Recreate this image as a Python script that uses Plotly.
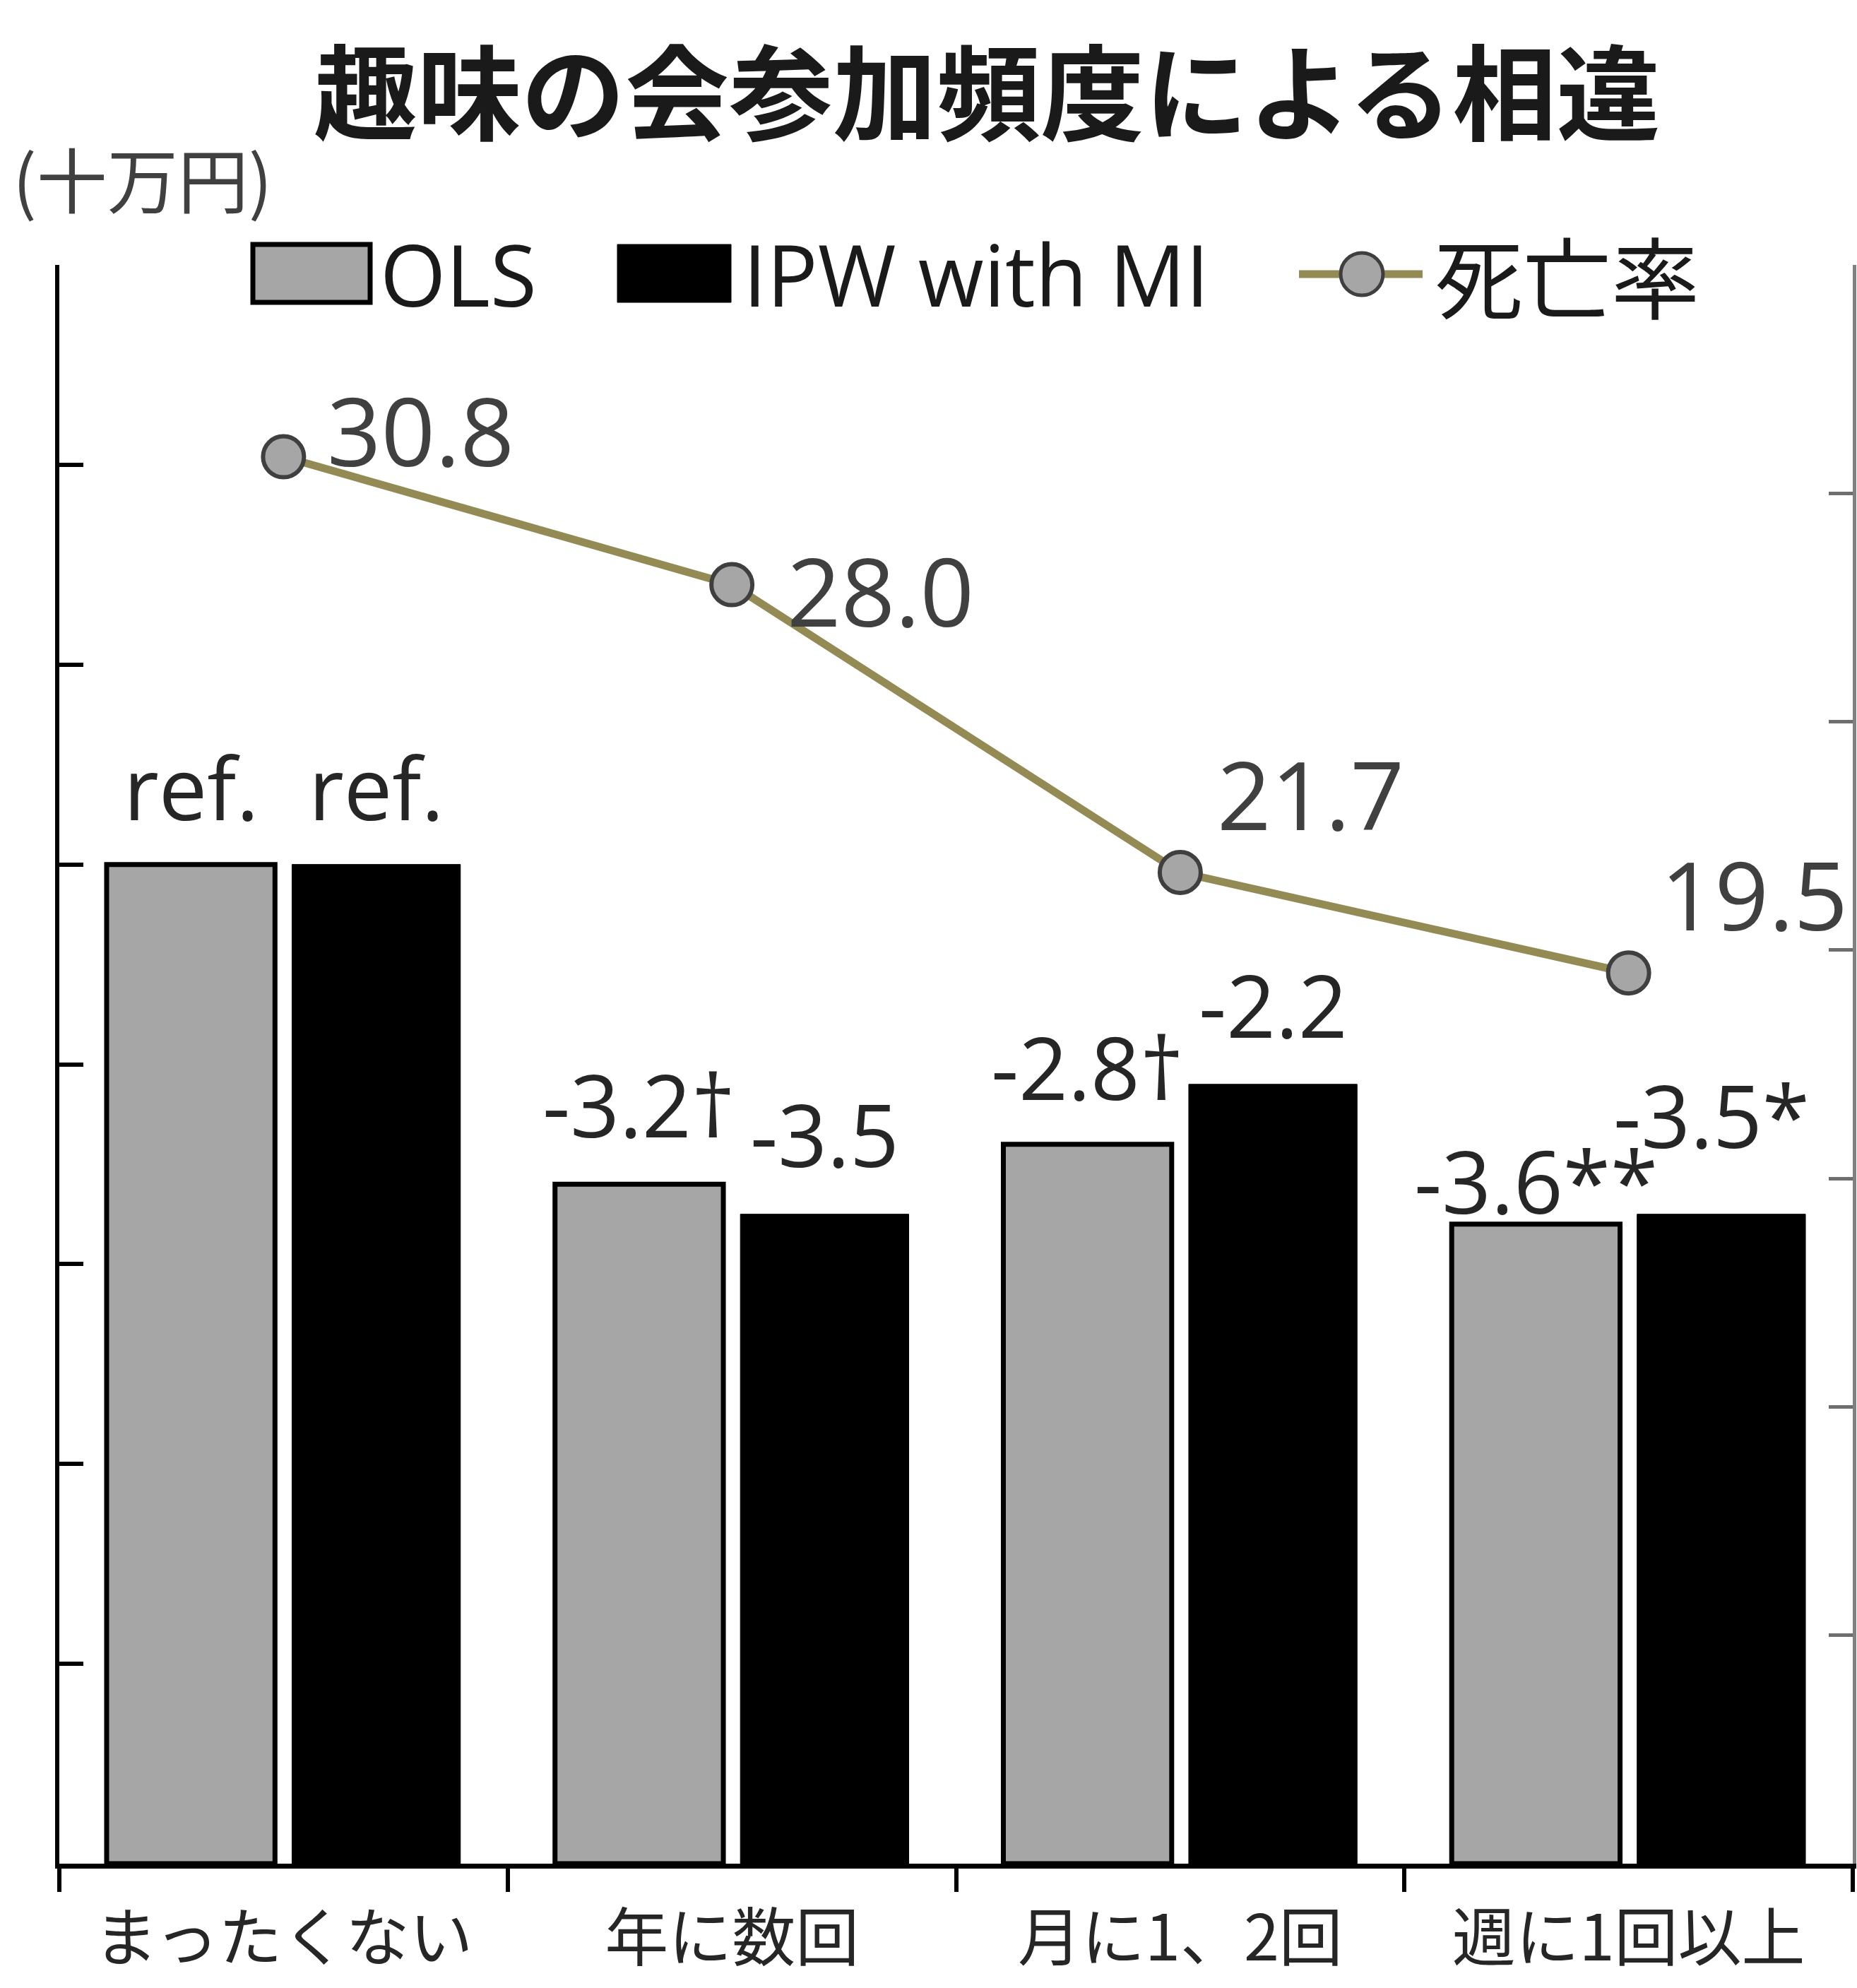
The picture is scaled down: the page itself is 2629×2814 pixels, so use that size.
import plotly.graph_objects as go

# ---------------- data ----------------
categories = ["まったくない", "年に数回", "月に1、2回", "週に1回以上"]
ols_values = [0.0, -3.2, -2.8, -3.6]
ipw_values = [0.0, -3.5, -2.2, -3.5]
ols_labels = ["ref.", "-3.2†", "-2.8†", "-3.6**"]
ipw_labels = ["ref.", "-3.5", "-2.2", "-3.5*"]
mortality = [30.8, 28.0, 21.7, 19.5]
mortality_labels = ["30.8", "28.0", "21.7", "19.5"]
series_names = ["OLS", "IPW with MI", "死亡率"]
title_text = "趣味の会参加頻度による相違"
unit_text = "(十万円)"

# ---------------- styles / layout ----------------
W, H = 2629, 2814
PX0, PX1, PY0, PY1 = 84, 2623, 375, 2638   # plot area in pixels
Y_MIN, Y_MAX, Y_DT = -10, 6, 2
Y2_MIN, Y2_MAX, Y2_DT = 0, 35, 5
BARGAP, BARGROUPGAP = 0.173, 0.092

GRAY = "#a6a6a6"
OLIVE = "#948a54"
LATIN = "Open Sans, Noto Sans CJK JP, sans-serif"
CJK = "Noto Sans CJK JP, sans-serif"

ols_lift = [110, 113, 110, 62]
ipw_lift = [110, 114, 113, 141]
ols_dx = [0, 0, 0, 0]
ipw_dx = [0, 0, 0, -14]
rate_dx = [60, 76, 50, 43]
rate_dy = [39, -7, 112, 112]


def px2x(px):
    return (px - PX0) / (PX1 - PX0)


def py2y(py):
    return (PY1 - py) / (PY1 - PY0)


fig = go.Figure()
fig.add_trace(go.Bar(
    name=series_names[0], x=categories, y=[v - Y_MIN for v in ols_values], base=Y_MIN,
    marker=dict(color=GRAY, line=dict(color="#000000", width=7)), showlegend=False,
))
fig.add_trace(go.Bar(
    name=series_names[1], x=categories, y=[v - Y_MIN for v in ipw_values], base=Y_MIN,
    marker=dict(color="#000000", line=dict(color="#000000", width=1)), showlegend=False,
))
fig.add_trace(go.Scatter(
    name=series_names[2], x=categories, y=mortality, yaxis="y2", mode="lines+markers",
    line=dict(color=OLIVE, width=11),
    marker=dict(size=58, color=GRAY, line=dict(color="#3f3f3f", width=6)),
    showlegend=False,
))

annotations = []
off = (1 - BARGAP) / 4
for i in range(len(categories)):
    annotations.append(dict(
        x=i - off, y=ols_values[i], xref="x", yref="y", text=ols_labels[i],
        showarrow=False, xanchor="center", yanchor="middle",
        xshift=ols_dx[i], yshift=ols_lift[i],
        font=dict(family=LATIN, size=122, color="#262626")))
    annotations.append(dict(
        x=i + off, y=ipw_values[i], xref="x", yref="y", text=ipw_labels[i],
        showarrow=False, xanchor="center", yanchor="middle",
        xshift=ipw_dx[i], yshift=ipw_lift[i],
        font=dict(family=LATIN, size=122, color="#262626")))
    annotations.append(dict(
        x=i, y=mortality[i], xref="x", yref="y2", text=mortality_labels[i],
        showarrow=False, xanchor="left", yanchor="middle",
        xshift=rate_dx[i], yshift=rate_dy[i],
        font=dict(family=LATIN, size=134, color="#404040")))

# title
annotations.append(dict(
    x=px2x(1397), y=py2y(122), xref="paper", yref="paper", text=title_text,
    showarrow=False, xanchor="center", yanchor="middle",
    font=dict(family=CJK, size=147, color="#1a1a1a", weight="bold")))

# unit label
annotations.append(dict(
    x=px2x(16), y=py2y(250), xref="paper", yref="paper", text=unit_text,
    showarrow=False, xanchor="left", yanchor="middle",
    font=dict(family=CJK, size=100, color="#404040")))

# manual legend
LEG_Y = 388
shapes = [
    dict(type="rect", xref="paper", yref="paper",
         x0=px2x(358), x1=px2x(524), y0=py2y(346), y1=py2y(428),
         fillcolor=GRAY, line=dict(color="#000000", width=7)),
    dict(type="rect", xref="paper", yref="paper",
         x0=px2x(874), x1=px2x(1035), y0=py2y(346), y1=py2y(428),
         fillcolor="#000000", line=dict(color="#000000", width=1)),
    dict(type="line", xref="paper", yref="paper",
         x0=px2x(1839), x1=px2x(2014), y0=py2y(LEG_Y), y1=py2y(LEG_Y),
         line=dict(color=OLIVE, width=11)),
    dict(type="circle", xref="paper", yref="paper",
         x0=px2x(1928 - 30), x1=px2x(1928 + 30), y0=py2y(LEG_Y - 30), y1=py2y(LEG_Y + 30),
         fillcolor=GRAY, line=dict(color="#3f3f3f", width=5)),
]
for txt, left, fam, size in [(series_names[0], 536, LATIN, 120),
                             (series_names[1], 1050, LATIN, 120),
                             (series_names[2], 2029, CJK, 125)]:
    annotations.append(dict(
        x=px2x(left), y=py2y(LEG_Y), xref="paper", yref="paper", text=txt,
        showarrow=False, xanchor="left", yanchor="middle",
        font=dict(family=fam, size=size, color="#1a1a1a")))

fig.update_layout(
    width=W, height=H,
    margin=dict(l=PX0, r=W - PX1, t=PY0, b=H - PY1, pad=0, autoexpand=False),
    paper_bgcolor="white", plot_bgcolor="white",
    barmode="group", bargap=BARGAP, bargroupgap=BARGROUPGAP,
    xaxis=dict(
        type="category", range=[-0.5, len(categories) - 0.5], automargin=False,
        showline=True, linecolor="#000000", linewidth=7,
        ticks="outside", tickson="boundaries", ticklen=33, tickwidth=6, tickcolor="#000000",
        tickfont=dict(family=CJK, size=90, color="#262626"),
        ticklabelstandoff=22, showgrid=False, zeroline=False,
    ),
    yaxis=dict(
        range=[Y_MIN, Y_MAX], dtick=Y_DT, tick0=Y_MIN, automargin=False,
        showline=True, linecolor="#000000", linewidth=6,
        ticks="inside", ticklen=34, tickwidth=6, tickcolor="#000000",
        showticklabels=False, showgrid=False, zeroline=False,
    ),
    yaxis2=dict(
        range=[Y2_MIN, Y2_MAX], dtick=Y2_DT, tick0=Y2_MIN, overlaying="y", side="right",
        automargin=False,
        showline=True, linecolor="#808080", linewidth=5,
        ticks="inside", ticklen=34, tickwidth=5, tickcolor="#6e6e6e",
        showticklabels=False, showgrid=False, zeroline=False,
    ),
    annotations=annotations,
    shapes=shapes,
)

fig.write_html("out.html")
